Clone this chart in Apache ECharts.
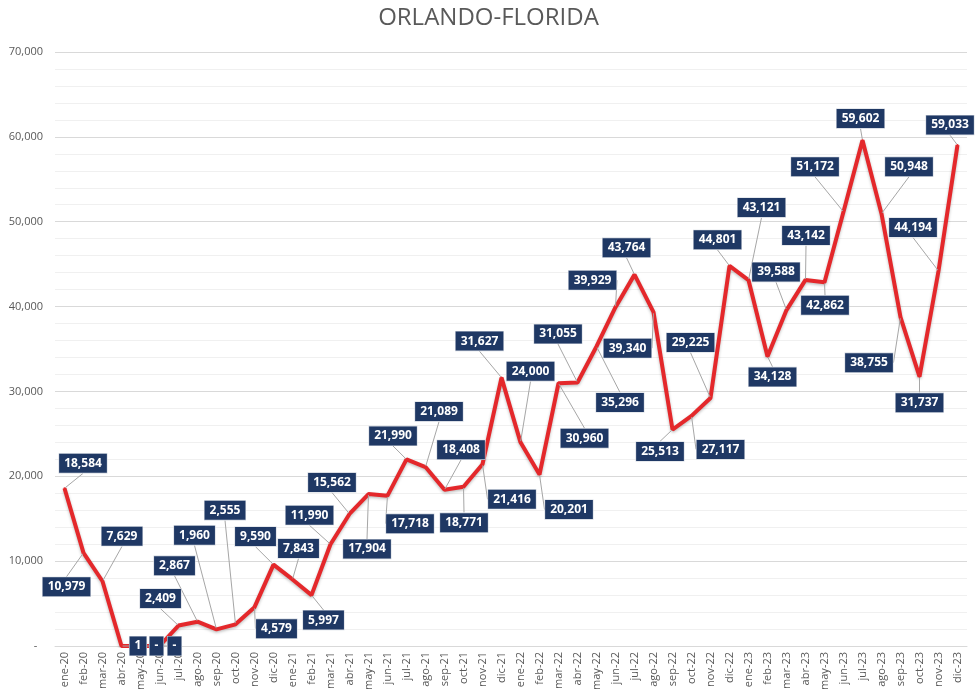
<!DOCTYPE html>
<html>
<head>
<meta charset="utf-8">
<title>ORLANDO-FLORIDA</title>
<script src="https://cdn.jsdelivr.net/npm/echarts@6/dist/echarts.min.js"></script>
<style>
  html, body { margin: 0; padding: 0; background: #ffffff; }
  #chart { width: 977px; height: 693px; }
</style>
</head>
<body>
<div id="chart"></div>
<script>
// Monthly series, January 2020 – December 2023
const months = [
  'ene-20','feb-20','mar-20','abr-20','may-20','jun-20','jul-20','ago-20','sep-20','oct-20','nov-20','dic-20',
  'ene-21','feb-21','mar-21','abr-21','may-21','jun-21','jul-21','ago-21','sep-21','oct-21','nov-21','dic-21',
  'ene-22','feb-22','mar-22','abr-22','may-22','jun-22','jul-22','ago-22','sep-22','oct-22','nov-22','dic-22',
  'ene-23','feb-23','mar-23','abr-23','may-23','jun-23','jul-23','ago-23','sep-23','oct-23','nov-23','dic-23'
];

const values = [
  18584, 10979, 7629, 1, 0, 0, 2409, 2867, 1960, 2555, 4579, 9590,
  7843, 5997, 11990, 15562, 17904, 17718, 21990, 21089, 18408, 18771, 21416, 31627,
  24000, 20201, 30960, 31055, 35296, 39929, 43764, 39340, 25513, 27117, 29225, 44801,
  43121, 34128, 39588, 43142, 42862, 51172, 59602, 50948, 38755, 31737, 44194, 59033
];

const yTicks = [0, 10000, 20000, 30000, 40000, 50000, 60000, 70000];

// Where each callout box sits relative to its point (dx, dy in px)
const calloutShift = [
  [18.5,-25], [-17,34], [19.5,-45], [16.5,0], [16,0], [15,0], [-18,-27], [-23,-56], [-22,-94], [-10.5,-114], [22,21.5], [-18,-28],
  [6,-31], [12,25], [-21,-29], [-17.5,-31.5], [-1.5,55], [22.5,28], [-13.5,-23.5], [13.5,-55.5], [16.5,-40], [0.5,36], [29.5,35], [-22,-36.5],
  [10,-71], [29.5,35], [26,55], [-19.5,-48.5], [23.5,56], [-23,-27], [-8,-27], [-26,36], [-12.5,22], [29,33.5], [-20,-55.5], [-12,-26],
  [13,-72.5], [5,20.5], [-10.5,-38], [0.5,-44.5], [0.5,23], [-28.5,-45], [-2,-21.7], [27.5,-47], [-31.5,45.5], [0,26], [-25.5,-43.5], [-7.5,-20]
];

function fmt(v) {
  if (v === 0) return '-';
  return v.toLocaleString('en-US');
}

const FONT = '"Open Sans", "Liberation Sans", sans-serif';
const chart = echarts.init(document.getElementById('chart'), null, { renderer: 'canvas' });

chart.setOption({
  animation: false,
  backgroundColor: '#ffffff',
  title: {
    text: 'ORLANDO-FLORIDA',
    left: 'center',
    top: 1,
    textStyle: { fontFamily: FONT, fontSize: 24, fontWeight: 'normal', color: '#595959' }
  },
  grid: { left: 55, right: 10, top: 52, bottom: 47, containLabel: false },
  xAxis: {
    type: 'category',
    data: months,
    boundaryGap: true,
    axisLine: { show: true, lineStyle: { color: '#D9D9D9', width: 1 } },
    axisTick: { show: false },
    axisLabel: {
      interval: 0,
      rotate: 90,
      margin: 6,
      fontFamily: FONT,
      fontSize: 11,
      color: '#595959'
    },
    splitLine: { show: false }
  },
  yAxis: {
    type: 'value',
    min: yTicks[0],
    max: yTicks[yTicks.length - 1],
    interval: 10000,
    axisLine: { show: false },
    axisTick: { show: false },
    axisLabel: {
      margin: 12,
      fontFamily: FONT,
      fontSize: 11,
      color: '#595959',
      formatter: function (v) { return v === 0 ? '-  ' : fmt(v); }
    },
    splitLine: { show: true, lineStyle: { color: '#D9D9D9', width: 1 } },
    minorTick: { show: false, splitNumber: 5 },
    minorSplitLine: { show: true, lineStyle: { color: '#F0F0F0', width: 1 } }
  },
  series: [{
    type: 'line',
    data: values,
    symbol: 'circle',
    symbolSize: 2,
    showSymbol: true,
    showAllSymbol: true,
    itemStyle: { color: '#E4282B' },
    lineStyle: {
      color: '#E4282B',
      width: 4,
      shadowColor: 'rgba(0,0,0,0.25)',
      shadowBlur: 3,
      shadowOffsetY: 1.5
    },
    label: {
      show: true,
      position: 'inside',
      formatter: function (p) { return fmt(p.value); },
      fontFamily: FONT,
      fontSize: 12,
      fontWeight: 'bold',
      color: '#ffffff',
      backgroundColor: '#1F3864',
      borderColor: '#D0D5DE',
      borderWidth: 0.6,
      padding: [3, 5, 3, 5],
      lineHeight: 13
    },
    labelLine: {
      show: true,
      lineStyle: { color: '#A6A6A6', width: 1 }
    },
    labelLayout: function (params) {
      const s = calloutShift[params.dataIndex];
      return { dx: s[0], dy: s[1], hideOverlap: false };
    },
    z: 3
  }]
});
</script>
</body>
</html>
